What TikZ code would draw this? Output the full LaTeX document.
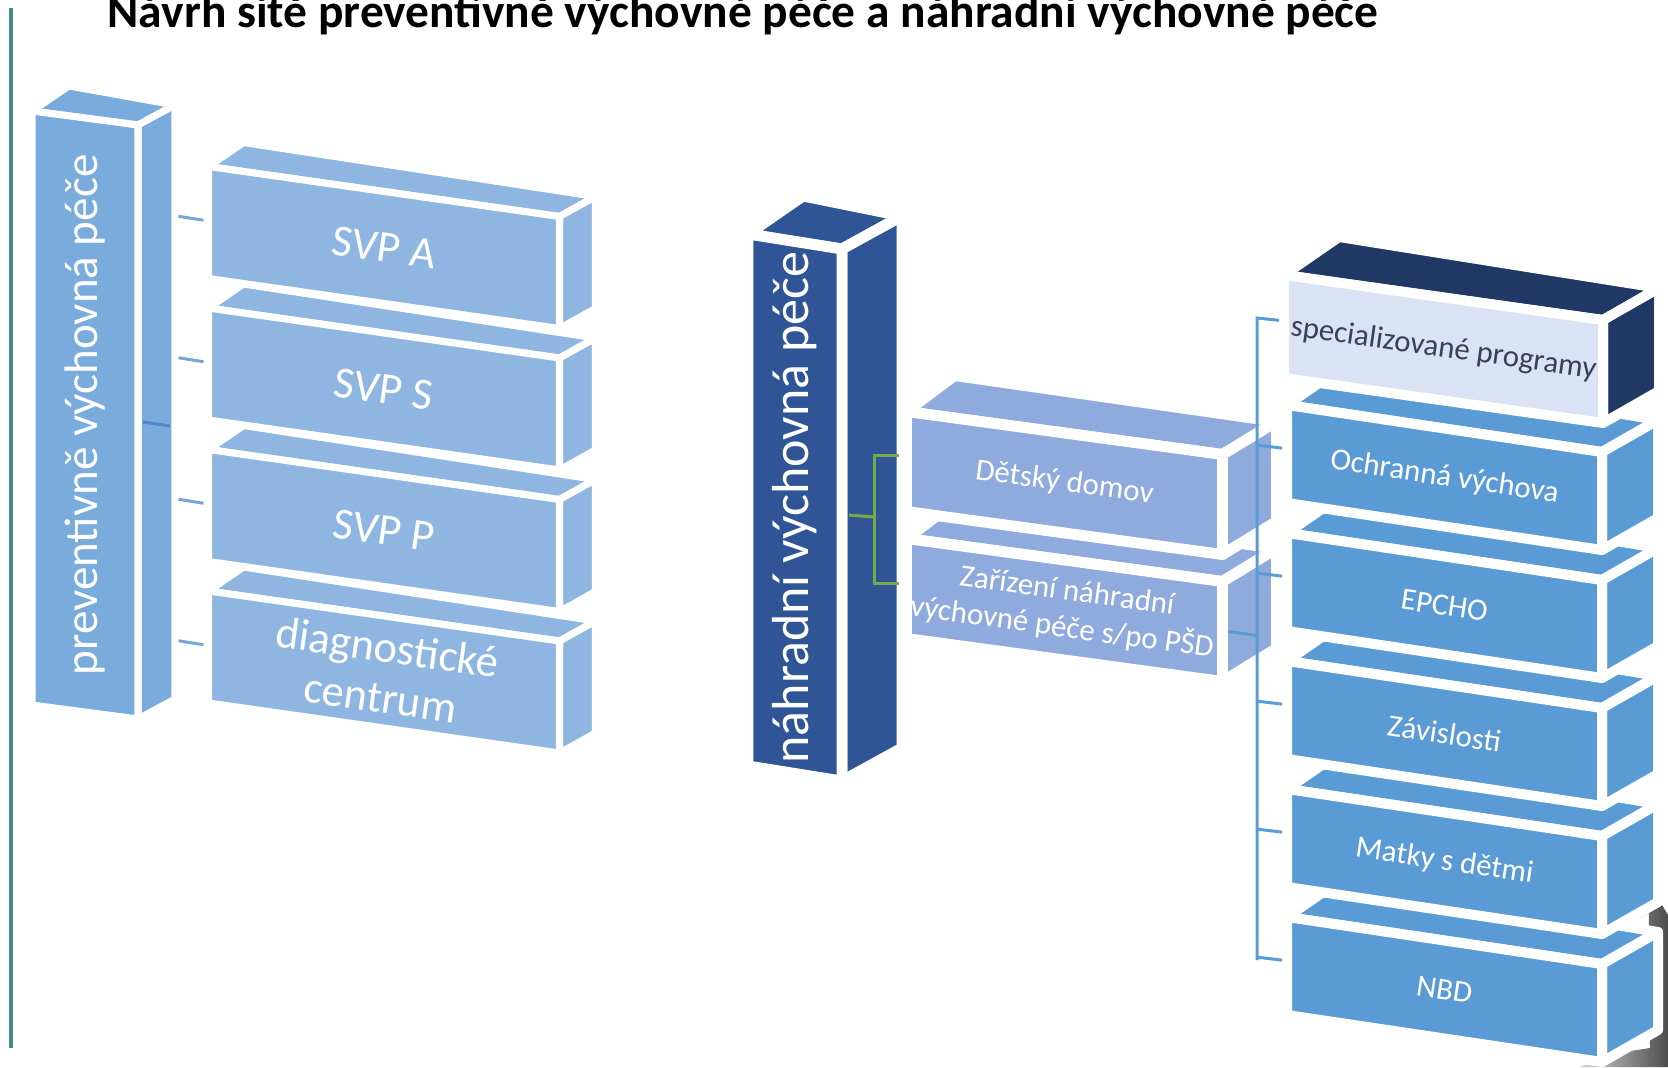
\documentclass[tikz,border=0pt]{standalone}
\usepackage{fontspec}
\setmainfont{Carlito}
\usetikzlibrary{calc}

\definecolor{tyrkys}{RGB}{64,138,138}
\definecolor{sloupP}{RGB}{122,171,221}
\definecolor{boxP}{RGB}{142,182,225}
\definecolor{sloupN}{RGB}{47,85,151}
\definecolor{boxN}{RGB}{143,170,220}
\definecolor{boxS}{RGB}{91,155,213}
\definecolor{hlavaF}{RGB}{218,227,243}
\definecolor{hlavaT}{RGB}{32,56,100}
\definecolor{hlavaText}{RGB}{55,66,86}
\definecolor{zelena}{RGB}{112,173,71}
\definecolor{spojP}{RGB}{120,165,215}
\definecolor{spojS}{RGB}{80,135,200}

% kvadr: #1 jmeno, #2 x, #3 y, #4 sirka, #5 vyska, #6 pokles, #7 celo, #8 vrch, #9 bok
\newcommand{\kvadr}[9]{%
  \coordinate (#1-a) at (#2,#3);
  \coordinate (#1-b) at (#2+#4,#3+#6);
  \coordinate (#1-c) at (#2+#4,#3+#6+#5);
  \coordinate (#1-d) at (#2,#3+#5);
  \filldraw[stena,fill=#8] (#1-a) -- ($(#1-a)+(\dlx,\dly)$) -- ($(#1-b)+(\drx,\dry)$) -- (#1-b) -- cycle;
  \filldraw[stena,fill=#9] (#1-b) -- ($(#1-b)+(\drx,\dry)$) -- ($(#1-c)+(\drx,\dry)$) -- (#1-c) -- cycle;
  \filldraw[stena,fill=#7] (#1-a) -- (#1-b) -- (#1-c) -- (#1-d) -- cycle;
  \coordinate (#1) at ($(#1-a)!.5!(#1-c)$);
}

\tikzset{
  stena/.style={draw=white, line width=\okraj, line join=round},
  nadpis/.style={font=\fontsize{13.5}{16}\selectfont\bfseries, inner sep=0},
  sloupText/.style={text=white, font=\fontsize{13.4}{16}\selectfont, rotate=90, inner sep=0},
  popisP/.style={text=white, font=\fontsize{12.7}{14.4}\selectfont, align=center, inner sep=0},
  popisM/.style={text=white, font=\fontsize{8.8}{10.6}\selectfont, align=center, inner sep=0},
  tick/.style={draw=spojP, line width=0.85pt},
  zavorka/.style={draw=boxS, line width=0.85pt},
}

\begin{document}
\begin{tikzpicture}[x=0.1mm, y=-0.1mm, line cap=butt]
\useasboundingbox (0,0) rectangle (1668,1067);

\draw[tyrkys, line width=1.15pt] (11,8) -- (11,1048);
\node[nadpis, anchor=base west] (nadpis) at (107,27)
  {Návrh sítě preventivně výchovné péče a náhradní výchovné péče};

% sedy okraj fotky vpravo dole
\shade[left color=gray!35, right color=black!70]
  (1648,830) .. controls (1660,870) and (1648,895) .. (1640,918)
  -- (1662,905) -- (1668,915) -- (1668,1067) -- (1580,1067)
  .. controls (1610,1054) .. (1650,1048) -- cycle;

% preventivne vychovna pece
\def\okraj{2pt}
\def\dlx{37} \def\dly{-25} \def\drx{37} \def\dry{-20}
\kvadr{pvp}{32}{111}{106}{594}{14}{sloupP}{sloupP}{sloupP}
\node[sloupText] (pvp-t) at (pvp) {preventivně výchovná péče};
\draw[draw=spojS, line width=0.85pt] ($(pvp-b)!.5!(pvp-c)+(5,0)$) -- ++(27,4);

\def\dlx{35} \def\dly{-24} \def\drx{36} \def\dry{-20}
\foreach \jm/\i/\txt in {dc/3/{diagnostické\\centrum}, svpp/2/{SVP P}, svps/1/{SVP S}, svpa/0/{SVP A}}{
  \kvadr{\jm}{208.5}{166.5+141.5*\i}{351}{112}{50}{boxP}{boxP}{boxP}
  \node[popisP, rotate=-8.1] (\jm-t) at (\jm) {\txt};
  \draw[tick] ($(\jm-a)!.48!(\jm-d)+(-5,0)$) -- ++(-25,-4);
}

% nahradni vychovna pece
\def\okraj{3.1pt}
\def\dlx{55} \def\dly{-38} \def\drx{60} \def\dry{-33}
\kvadr{nvp}{748}{234}{94}{532}{15}{sloupN}{sloupN}{sloupN}
\node[sloupText, font=\fontsize{14.8}{17}\selectfont] (nvp-t) at (nvp) {náhradní výchovná péče};

\def\dlx{48} \def\dly{-36} \def\drx{54} \def\dry{-33}
\kvadr{zn}{906.5}{538.5}{316}{100}{43}{boxN}{boxN}{boxN}
\node[popisM, rotate=-7.8] (zn-t) at (zn) {Zařízení náhradní\\výchovné péče s/po PŠD};
\kvadr{dd}{906.5}{411.5}{316}{100}{43}{boxN}{boxN}{boxN}
\node[popisM, rotate=-7.8] (dd-t) at (dd) {Dětský domov};

\coordinate (uzel) at (874,517);
\draw[zelena, line width=0.85pt] ($(nvp-b)!.5!(nvp-c)+(7,0)$) -- (uzel);
\draw[zelena, line width=0.85pt] ($(dd-a)!.44!(dd-d)+(-8,0)$) -| (uzel) |- ($(zn-a)!.45!(zn-d)+(-8,0)$);

% specializovane programy
\def\okraj{2.85pt}
\def\dlx{55} \def\dly{-38} \def\drx{56} \def\dry{-32}
\foreach \jm/\i/\txt in {nbd/4/NBD, mt/3/{Matky s dětmi}, za/2/Závislosti, ep/1/EPCHO, ov/0/{Ochranná výchova}}{
  \kvadr{\jm}{1287}{405+128*\i}{315}{98}{47}{boxS}{boxS}{boxS}
  \node[popisM, rotate=-8.5] (\jm-t) at (\jm) {\txt};
}
\kvadr{hl}{1284}{275}{319}{103}{45}{hlavaF}{hlavaT}{hlavaT}
\node[popisM, text=hlavaText, rotate=-8] (hl-t) at (hl) {specializované programy};

\coordinate (zv-h) at (1257,318);
\coordinate (zv-d) at (1257,960);
\draw[zavorka] ($(hl-a)!.44!(hl-d)+(-5,0)$) -- (zv-h) -- (zv-d);
\foreach \jm in {ov, ep, za, mt, nbd}
  \draw[zavorka] ($(\jm-a)!.44!(\jm-d)+(-5,0)$) -- ++(-25,-3);
\draw[zavorka] ($(zn-b)!.5!(zn-c)+(6,0)$) -- ++(29,4);
\end{tikzpicture}
\end{document}
